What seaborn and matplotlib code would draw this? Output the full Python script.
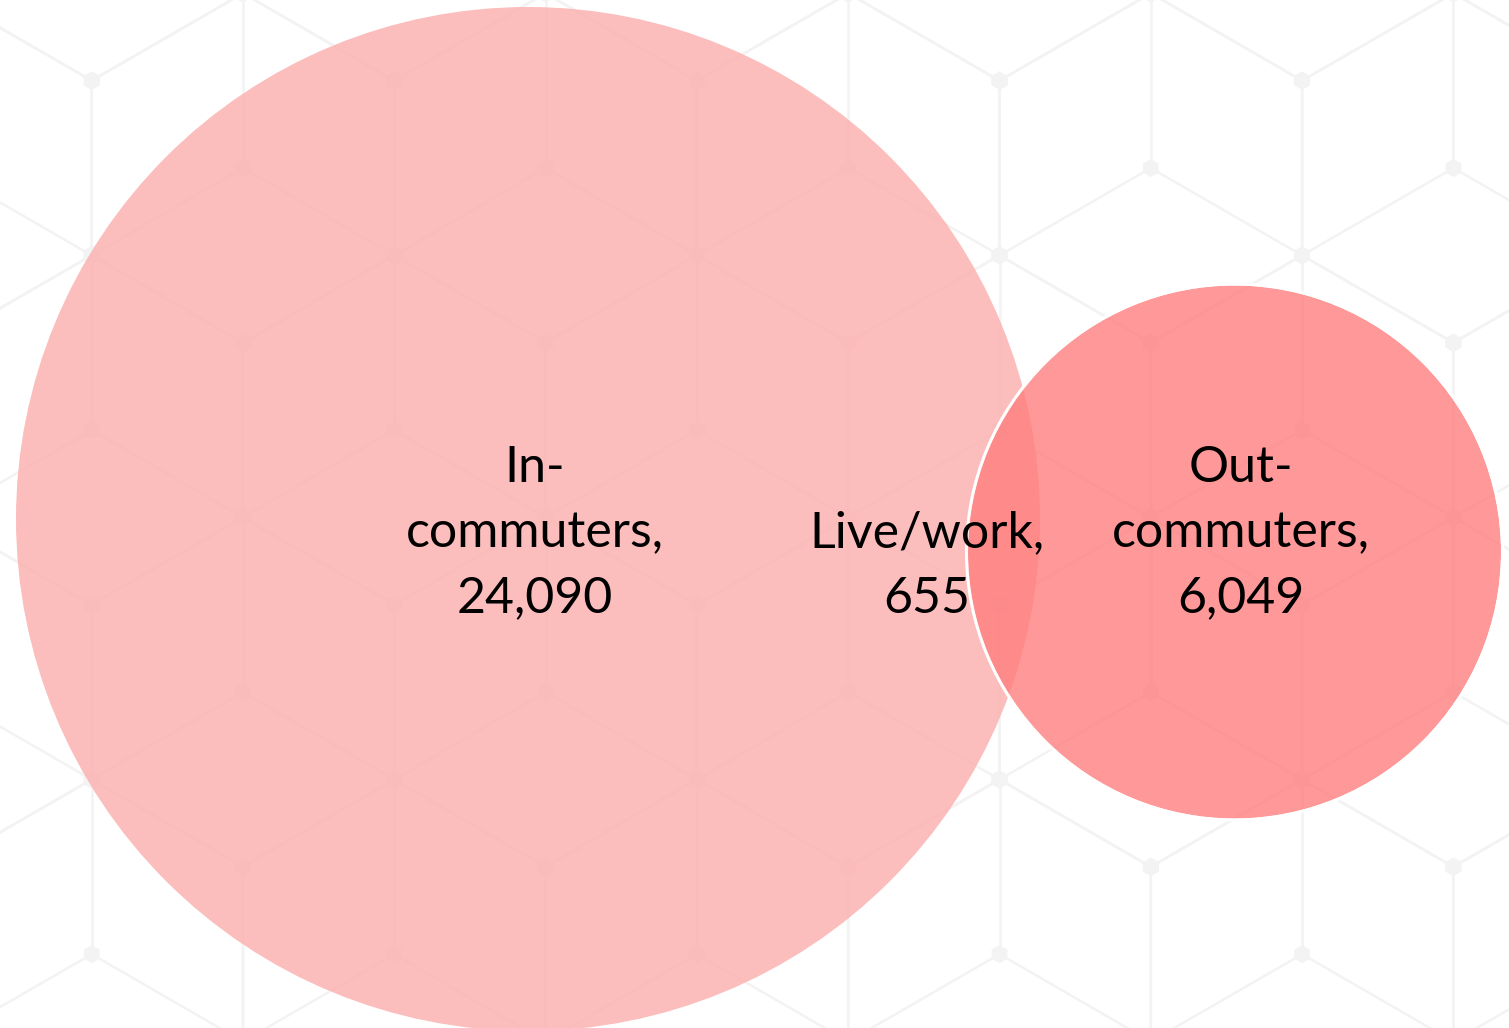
import numpy as np
import matplotlib.pyplot as plt
import seaborn as sns
from matplotlib.patches import Circle

sns.set_theme(style="white")
plt.rcParams['font.family'] = ['Lato', 'DejaVu Sans']

# Commuting flows (Venn-style bubble chart)
groups = ["In-\ncommuters,", "Live/work,", "Out-\ncommuters,"]
counts = [24090, 655, 6049]

fill_in = "#fcadad"
fill_out = "#ff7e7e"
pattern_color = "#f3f3f3"

# ---- layout (pixel units of a 1509x1028 canvas) ----
W, H = 1509, 1028
fig = plt.figure(figsize=(W / 100, H / 100), dpi=100)
ax = fig.add_axes([0, 0, 1, 1])
ax.set_xlim(0, W)
ax.set_ylim(H, 0)
ax.axis("off")

# faint isometric "cube" background pattern
dx = 151.3
side = dx / np.cos(np.pi / 6)
node_x, node_y = [], []
for r in range(-2, 6):
    cy = 168 + 1.5 * side * r
    off = dx if r % 2 else 0
    for k in range(-2, 7):
        cx = 243 + off + 2 * dx * k
        ang = np.deg2rad(np.arange(6) * 60 - 90)  # top vertex first
        vx = cx + side * np.cos(ang)
        vy = cy + side * np.sin(ang)
        # hexagon outline
        ax.plot(np.append(vx, vx[0]), np.append(vy, vy[0]),
                color=pattern_color, lw=1.8, zorder=0)
        # spokes to top, lower-right, lower-left
        for i in (0, 2, 4):
            ax.plot([cx, vx[i]], [cy, vy[i]], color=pattern_color, lw=1.8, zorder=0)
        node_x += list(vx) + [cx]
        node_y += list(vy) + [cy]
sns.scatterplot(x=node_x, y=node_y, marker="h", s=170, color=pattern_color,
                edgecolor="none", ax=ax, zorder=0, legend=False)
ax.set_xlim(0, W)
ax.set_ylim(H, 0)

# circle geometry: radius ~ sqrt(total in the set)
total_in = counts[0] + counts[1]
total_out = counts[2] + counts[1]
scale = 512 / np.sqrt(total_in)
r_in = scale * np.sqrt(total_in)
r_out = scale * np.sqrt(total_out)
c_in = (528, 519)
overlap = 72
c_out = (c_in[0] + r_in + r_out - overlap, 552)

ax.add_patch(Circle(c_in, r_in, facecolor=fill_in, alpha=0.8, lw=0, zorder=1))
ax.add_patch(Circle(c_out, r_out, facecolor=fill_out, alpha=0.8, lw=0, zorder=2))
ax.add_patch(Circle(c_out, r_out + 1.5, facecolor="none", edgecolor="white",
                    lw=2.2, zorder=2.5))

fs = 36
ls = 1.52
ax.text(c_in[0] + 7, 533, f"{groups[0]}\n{counts[0]:,}", ha="center", va="center",
        fontsize=fs, linespacing=ls, color="black", zorder=3)
ax.text(927, 566, f"{groups[1]}\n{counts[1]:,}", ha="center", va="center",
        fontsize=fs, linespacing=ls, color="black", zorder=3)
ax.text(c_out[0] + 6, 533, f"{groups[2]}\n{counts[2]:,}", ha="center", va="center",
        fontsize=fs, linespacing=ls, color="black", zorder=3)

fig.savefig("out.png", dpi=100)
